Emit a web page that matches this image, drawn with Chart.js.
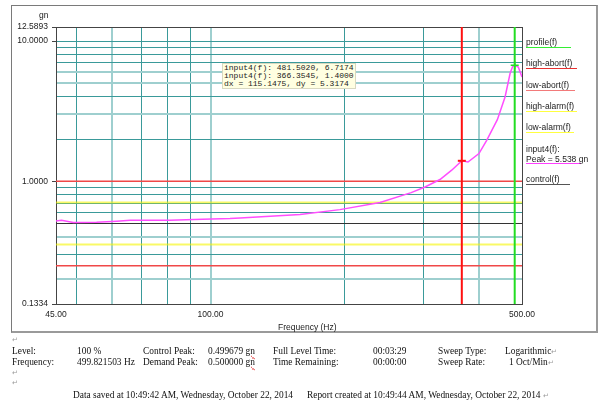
<!DOCTYPE html>
<html>
<head>
<meta charset="utf-8">
<script src="https://cdn.jsdelivr.net/npm/chart.js@4.4.0/dist/chart.umd.min.js"></script>
<style>
  body { margin: 0; background: #fff; width: 600px; height: 405px; position: relative; overflow: hidden; }
  #frame { position: absolute; left: 11px; top: 5px; width: 584px; height: 325px;
    border-left: 1px solid #7a7a7a; border-top: 1px solid #7a7a7a;
    border-right: 2px solid #9a9a9a; border-bottom: 2px solid #9a9a9a; }
  #wrap { position: absolute; left: 0; top: 0; width: 600px; height: 335px; }
  .sans { font-family: "Liberation Sans", Arial, sans-serif; font-size: 8.5px; color: #222; position: absolute; white-space: nowrap; }
  .lg { height: 9px; line-height: 9px; border-bottom: 1px solid; left: 526px; }
  #cursorBox { position: absolute; left: 222px; top: 63px; width: 131px; height: 24px;
    background: #ffffe1; border: 1px solid #d8d8c0; font-family: "Liberation Mono", monospace;
    font-size: 8px; line-height: 8px; color: #222; padding: 0 0 0 1px; white-space: pre; }
  .ser { font-family: "Liberation Serif", "Times New Roman", serif; font-size: 9.4px; color: #111; position: absolute; white-space: nowrap; line-height: 11px; }
  .pm { color: #999; font-size: 7px; }
  .sp { text-decoration: underline wavy #e03030; text-decoration-thickness: 1px; }
</style>
</head>
<body>
<div id="frame"></div>
<div id="wrap"><canvas id="chart1" width="600" height="335"></canvas></div>

<div class="sans" style="left:39px;top:10px;">gn</div>
<div class="sans" style="left:278px;top:322px;">Frequency (Hz)</div>

<div class="sans lg" style="top:38px;width:45px;border-color:#33ee33;">profile(f)</div>
<div class="sans lg" style="top:59px;width:51px;border-color:#e83030;">high-abort(f)</div>
<div class="sans lg" style="top:81px;width:49px;border-color:#f27a7a;">low-abort(f)</div>
<div class="sans lg" style="top:102px;width:51px;border-color:#ffff40;">high-alarm(f)</div>
<div class="sans lg" style="top:123px;width:48px;border-color:#ffff40;">low-alarm(f)</div>
<div class="sans lg" style="top:144px;width:55px;height:19px;line-height:10px;border-color:#ff40ff;">input4(f):<br>Peak = 5.538 gn</div>
<div class="sans lg" style="top:175px;width:44px;border-color:#555;">control(f)</div>

<div id="cursorBox">input4(f): 481.5020, 6.7174
input4(f): 366.3545, 1.4000
dx = 115.1475, dy = 5.3174</div>

<div class="ser pm" style="left:12px;top:335px;">↵</div>
<div class="ser" style="left:12px;top:346px;">Level:</div>
<div class="ser" style="left:77px;top:346px;">100 %</div>
<div class="ser" style="left:143px;top:346px;">Control Peak:</div>
<div class="ser" style="left:208px;top:346px;">0.499679 <span class="sp">gn</span></div>
<div class="ser" style="left:273px;top:346px;">Full Level Time:</div>
<div class="ser" style="left:373px;top:346px;">00:03:29</div>
<div class="ser" style="left:438px;top:346px;">Sweep Type:</div>
<div class="ser" style="left:505px;top:346px;">Logarithmic<span class="pm">↵</span></div>
<div class="ser" style="left:12px;top:357px;">Frequency:</div>
<div class="ser" style="left:77px;top:357px;">499.821503 Hz</div>
<div class="ser" style="left:143px;top:357px;">Demand Peak:</div>
<div class="ser" style="left:208px;top:357px;">0.500000 <span class="sp">gn</span></div>
<div class="ser" style="left:273px;top:357px;">Time Remaining:</div>
<div class="ser" style="left:373px;top:357px;">00:00:00</div>
<div class="ser" style="left:438px;top:357px;">Sweep Rate:</div>
<div class="ser" style="left:509px;top:357px;">1 Oct/Min<span class="pm">↵</span></div>
<div class="ser pm" style="left:12px;top:368px;">↵</div>
<div class="ser pm" style="left:12px;top:378px;">↵</div>
<div class="ser" style="left:73px;top:390px;">Data saved at 10:49:42 AM, Wednesday, October 22, 2014</div>
<div class="ser" style="left:307px;top:390px;">Report created at 10:49:44 AM, Wednesday, October 22, 2014 <span class="pm">↵</span></div>

<script>
// sweep data (Hz, gn)
const freqHz = [45, 46.3, 49.2, 55.5, 61.6, 66, 81, 96, 110.6, 116.5, 158.8, 195.2, 240.1, 282, 302.9, 327.3, 347.7, 366.35, 378.3, 400.3, 416.6, 440.2, 458.1, 470.1, 476.6, 481.5, 490.5, 500];
const input4Gn = [0.52, 0.527, 0.508, 0.51, 0.519, 0.527, 0.527, 0.536, 0.542, 0.547, 0.58, 0.628, 0.705, 0.83, 0.91, 1.03, 1.2, 1.40, 1.373, 1.575, 1.96, 2.75, 3.99, 5.86, 6.60, 6.72, 6.53, 5.54];

// flat reference lines across the band
const bandHz = [45, 500];
const profileGn = [0.5, 0.5];
const controlGn = [0.5, 0.5];
const highAbortGn = [1.0, 1.0];
const lowAbortGn = [0.25, 0.25];
const highAlarmGn = [0.7071, 0.7071];
const lowAlarmGn = [0.3536, 0.3536];

// cursors
const cursorHz = [366.3545, 481.5020];
const cursorGn = [1.4, 6.7174];

// axes
const yRange = [0.1334, 12.5893];
const yGridValues = [0.1334, 0.2, 0.3, 0.4, 0.5, 0.6, 0.7, 0.8, 0.9, 1, 2, 3, 4, 5, 6, 7, 8, 9, 10, 12.5893];
const yLabelValues = [0.1334, 1, 10, 12.5893];
const yTickLabels = ['0.1334', '1.0000', '10.0000', '12.5893'];
const yLightGrid = [0.2, 0.4, 3, 5, 6];
const xRange = [45, 500];
const xGridValues = [45, 50, 60, 70, 80, 90, 100, 200, 300, 400, 500];
const xLabelValues = [45, 100, 500];
const xTickLabels = ['45.00', '100.00', '500.00'];
const xLightGrid = [60, 100, 400];

const darkTeal = 'rgb(58,154,154)';
const lightTeal = 'rgb(158,207,207)';

function pts(xs, ys) {
  return xs.map((x, i) => ({x: x, y: ys[i]}));
}

function flatLine(label, ys, color, width, order) {
  return {label: label, data: pts(bandHz, ys), borderColor: color, borderWidth: width,
    pointRadius: 0, order: order};
}

function gridColor(light, edges) {
  return function (ctx) {
    const v = ctx.tick.value;
    if (edges.indexOf(v) >= 0) return '#444';
    return light.indexOf(v) >= 0 ? lightTeal : darkTeal;
  };
}
function gridWidth(light) {
  return function (ctx) {
    return light.indexOf(ctx.tick.value) >= 0 ? 2 : 1;
  };
}

const ctx = document.getElementById('chart1').getContext('2d');
var myChart = new Chart(ctx, {
  type: 'line',
  data: {
    datasets: [
      {label: 'cursor1', data: pts([cursorHz[1], cursorHz[1]], yRange), borderColor: '#22dd22', borderWidth: 2, pointRadius: 0, order: 1},
      {label: 'cursor2', data: pts([cursorHz[0], cursorHz[0]], yRange), borderColor: '#ff1010', borderWidth: 2, pointRadius: 0, order: 2},
      {label: 'mark1', data: pts([cursorHz[1]], [cursorGn[1]]), showLine: false, pointStyle: 'cross', pointRadius: 4, borderColor: '#22dd22', borderWidth: 1.5, order: 0},
      {label: 'mark2', data: pts([cursorHz[0]], [cursorGn[0]]), showLine: false, pointStyle: 'line', pointRadius: 4, borderColor: '#ff1010', borderWidth: 2, order: 0},
      {label: 'input4(f)', data: pts(freqHz, input4Gn), borderColor: '#ff4dff', borderWidth: 1.5, pointRadius: 0, order: 3},
      flatLine('control(f)', controlGn, '#333333', 1, 4),
      flatLine('high-abort(f)', highAbortGn, '#f04848', 1.5, 5),
      flatLine('low-abort(f)', lowAbortGn, '#f04848', 1.5, 6),
      flatLine('high-alarm(f)', highAlarmGn, 'rgba(245,245,0,0.6)', 2, 7),
      flatLine('low-alarm(f)', lowAlarmGn, 'rgba(245,245,0,0.6)', 2, 8),
      flatLine('profile(f)', profileGn, '#22dd22', 1, 9),
    ],
  },
  options: {
    responsive: false,
    animation: false,
    devicePixelRatio: 1,
    layout: {padding: {left: 0, top: 27, right: 78, bottom: 0}},
    plugins: {legend: {display: false}, tooltip: {enabled: false}},
    elements: {line: {tension: 0}},
    scales: {
      x: {
        type: 'logarithmic', min: xRange[0], max: xRange[1],
        afterBuildTicks: (s) => { s.ticks = xGridValues.map(v => ({value: v})); },
        afterFit: (s) => { s.height = 31; },
        border: {color: '#444', width: 1},
        grid: {color: gridColor(xLightGrid, [500]), lineWidth: gridWidth(xLightGrid), drawTicks: false},
        ticks: {
          autoSkip: false, maxRotation: 0, padding: 6, color: '#222',
          font: {family: 'Liberation Sans', size: 8.5},
          callback: (v) => { const i = xLabelValues.indexOf(v); return i >= 0 ? xTickLabels[i] : ''; },
        },
      },
      y: {
        type: 'logarithmic', min: yRange[0], max: yRange[1],
        afterBuildTicks: (s) => { s.ticks = yGridValues.map(v => ({value: v})); },
        afterFit: (s) => { s.width = 56; },
        border: {color: '#444', width: 1},
        grid: {
          color: gridColor(yLightGrid, [12.5893]), lineWidth: gridWidth(yLightGrid),
          tickLength: 4,
          tickColor: (c) => yLabelValues.indexOf(c.tick.value) >= 0 ? '#444' : 'rgba(0,0,0,0)',
          tickWidth: 1,
        },
        ticks: {
          autoSkip: false, padding: 4, color: '#222',
          font: {family: 'Liberation Sans', size: 8.5},
          callback: (v) => { const i = yLabelValues.indexOf(v); return i >= 0 ? yTickLabels[i] : ''; },
        },
      },
    },
  },
});
</script>
</body>
</html>
